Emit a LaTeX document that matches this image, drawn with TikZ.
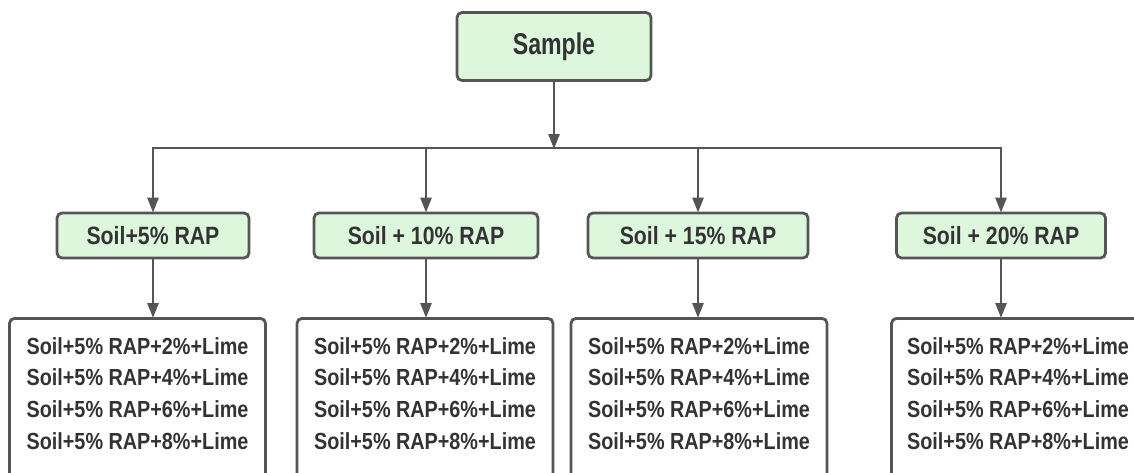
\documentclass[tikz,border=0pt]{standalone}
\usepackage{fontspec}
\setmainfont{Liberation Sans}[FakeStretch=0.85]
\newfontfamily\samplefont{Liberation Sans}[FakeStretch=0.77]
\usetikzlibrary{arrows.meta}
\definecolor{boxgreen}{HTML}{DDF7DD}
\definecolor{edge}{HTML}{555555}
\definecolor{txt}{HTML}{333333}
\tikzset{
  greenbox/.style={draw=edge, fill=boxgreen, line width=2.8pt, rounded corners=5pt,
    text=txt, font={\bfseries\fontsize{25}{30}\selectfont}, inner sep=0pt, minimum height=45pt},
  whitebox/.style={draw=edge, fill=white, line width=2.8pt, rounded corners=5pt,
    minimum width=256pt, minimum height=200pt, anchor=north, inner sep=0pt},
  linetext/.style={text=txt, font={\bfseries\fontsize{23.3}{31.7}\selectfont}, align=center,
    inner sep=0pt, anchor=north},
  conn/.style={draw=edge, line width=2.7pt},
  arr/.style={conn, -{Triangle[length=15pt,width=11pt]}, shorten >=-1pt}
}
\begin{document}
\begin{tikzpicture}[x=1pt,y=-1pt]
\path[use as bounding box, clip] (0,0) rectangle (1134,472);
\fill[white] (0,0) rectangle (1134,472);

\node[greenbox, minimum width=194pt, minimum height=68pt,
  font={\samplefont\bfseries\fontsize{30}{34}\selectfont}] (sample) at (554,46.5) {Sample};

\coordinate (busM) at (554,148);

\node[greenbox, minimum width=192pt] (a) at (153,235.5) {Soil+5\% RAP};
\node[greenbox, minimum width=224pt] (b) at (426,235.5) {Soil + 10\% RAP};
\node[greenbox, minimum width=220pt] (c) at (698,235.5) {Soil + 15\% RAP};
\node[greenbox, minimum width=209pt] (d) at (1001,235.5) {Soil + 20\% RAP};

\node[whitebox] (a3) at (137.5,317) {};
\node[whitebox] (b3) at (425,317) {};
\node[whitebox] (c3) at (699,317) {};
\node[whitebox] (d3) at (1019.5,317) {};

\node[linetext] (ta) at (137.5,337) {Soil+5\% RAP+2\%+Lime\\Soil+5\% RAP+4\%+Lime\\Soil+5\% RAP+6\%+Lime\\Soil+5\% RAP+8\%+Lime};
\node[linetext] (tb) at (425,337) {Soil+5\% RAP+2\%+Lime\\Soil+5\% RAP+4\%+Lime\\Soil+5\% RAP+6\%+Lime\\Soil+5\% RAP+8\%+Lime};
\node[linetext] (tc) at (699,337) {Soil+5\% RAP+2\%+Lime\\Soil+5\% RAP+4\%+Lime\\Soil+5\% RAP+6\%+Lime\\Soil+5\% RAP+8\%+Lime};
\node[linetext] (td) at (1018,337) {Soil+5\% RAP+2\%+Lime\\Soil+5\% RAP+4\%+Lime\\Soil+5\% RAP+6\%+Lime\\Soil+5\% RAP+8\%+Lime};

\draw[conn, line cap=rect] (a.north |- busM) -- (d.north |- busM);
\draw[arr] (sample.south) -- (busM);
\draw[arr] (a.north |- busM) -- (a.north);
\draw[arr] (b.north |- busM) -- (b.north);
\draw[arr] (c.north |- busM) -- (c.north);
\draw[arr] (d.north |- busM) -- (d.north);

\draw[arr] (a.south) -- (a.south |- a3.north);
\draw[arr] (b.south) -- (b.south |- b3.north);
\draw[arr] (c.south) -- (c.south |- c3.north);
\draw[arr] (d.south) -- (d.south |- d3.north);
\end{tikzpicture}
\end{document}
